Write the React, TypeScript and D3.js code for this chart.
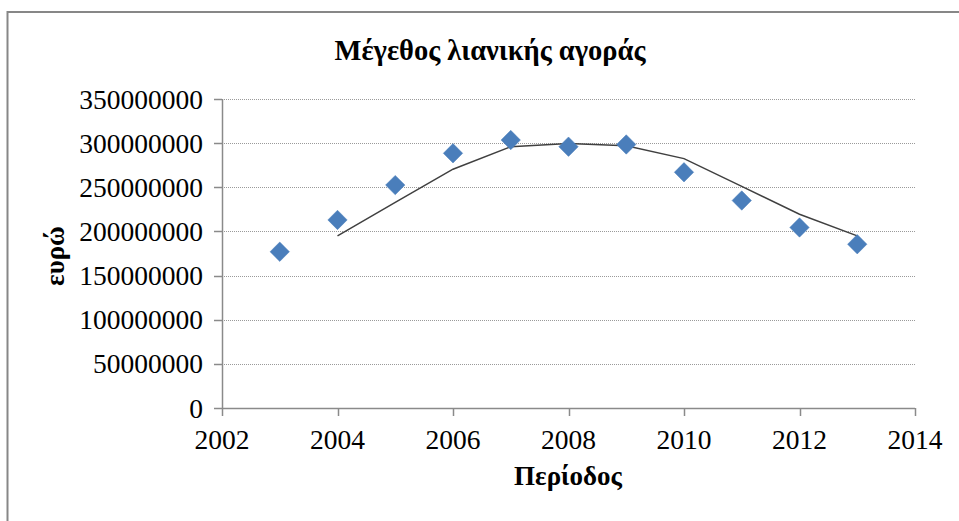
import React from 'react';
import * as d3 from 'd3';

const years = [2003, 2004, 2005, 2006, 2007, 2008, 2009, 2010, 2011, 2012, 2013];
const marketSize = [177000000, 213000000, 252500000, 288500000, 303500000, 296000000, 298500000, 267000000, 235000000, 204500000, 185500000];
const trendYears = [2004, 2005, 2006, 2007, 2008, 2009, 2010, 2011, 2012, 2013];
const trendValues = [195000000, 233000000, 270500000, 296000000, 299500000, 297000000, 282500000, 251000000, 219500000, 195000000];
const xTicks = [2002, 2004, 2006, 2008, 2010, 2012, 2014];
const yTicks = [0, 50000000, 100000000, 150000000, 200000000, 250000000, 300000000, 350000000];

const W = 959;
const H = 521;
const left = 222;
const right = 915;
const top = 99;
const bottom = 408;
const serif = { fontFamily: "'Liberation Serif', 'Times New Roman', serif" };

const App = () => {
  const x = d3.scaleLinear().domain([2002, 2014]).range([left, right]);
  const y = d3.scaleLinear().domain([0, 350000000]).range([bottom, top]);

  const trend = d3.line<number>()
    .x((d, i) => x(trendYears[i]))
    .y(d => y(d));

  const diamond = d3.symbol().type(d3.symbolDiamond2).size(240)();

  return (
    <svg width={W} height={H} style={{ position: 'absolute', left: 0, top: 0 }}>
      <rect x={0} y={0} width={W} height={H} fill="#fff" />
      <rect x={7.5} y={12} width={W + 20} height={H + 20} fill="none" stroke="#878787" strokeWidth={2} />

      <text x={490} y={60} textAnchor="middle" fontSize={28.5} fontWeight="bold" style={serif}>Μέγεθος λιανικής αγοράς</text>

      {yTicks.filter(t => t > 0).map(t => (
        <line key={'g' + t} x1={left} x2={right} y1={Math.round(y(t)) + 0.5} y2={Math.round(y(t)) + 0.5}
          stroke="#9a9a9a" strokeWidth={1} strokeDasharray="1,1" />
      ))}

      <line x1={left + 0.5} x2={left + 0.5} y1={top} y2={bottom} stroke="#8a8a8a" strokeWidth={1.5} />
      <line x1={left} x2={right} y1={bottom + 0.5} y2={bottom + 0.5} stroke="#8a8a8a" strokeWidth={1.5} />
      {yTicks.map(t => (
        <g key={'y' + t}>
          <line x1={left - 8} x2={left} y1={Math.round(y(t)) + 0.5} y2={Math.round(y(t)) + 0.5} stroke="#8a8a8a" strokeWidth={1.5} />
          <text x={203} y={y(t)} dy="0.35em" textAnchor="end" fontSize={27.5} style={serif}>{t}</text>
        </g>
      ))}
      {xTicks.map(t => (
        <g key={'x' + t}>
          <line x1={Math.round(x(t)) + 0.5} x2={Math.round(x(t)) + 0.5} y1={bottom} y2={bottom + 8} stroke="#8a8a8a" strokeWidth={1.5} />
          <text x={x(t)} y={449} textAnchor="middle" fontSize={27.5} style={serif}>{t}</text>
        </g>
      ))}

      <path d={trend(trendValues) || ''} fill="none" stroke="#404040" strokeWidth={1.5} />

      {years.map((yr, i) => (
        <path key={yr} d={diamond || ''} transform={`translate(${x(yr)},${y(marketSize[i])})`}
          fill="#4a7ebb" stroke="#4a7ebb" strokeWidth={0.5} />
      ))}

      <text x={568} y={485} textAnchor="middle" fontSize={27} fontWeight="bold" style={serif}>Περίοδος</text>
      <text transform="translate(64,256) rotate(-90)" textAnchor="middle" fontSize={27} fontWeight="bold" style={serif}>ευρώ</text>
    </svg>
  );
};

export default App;
